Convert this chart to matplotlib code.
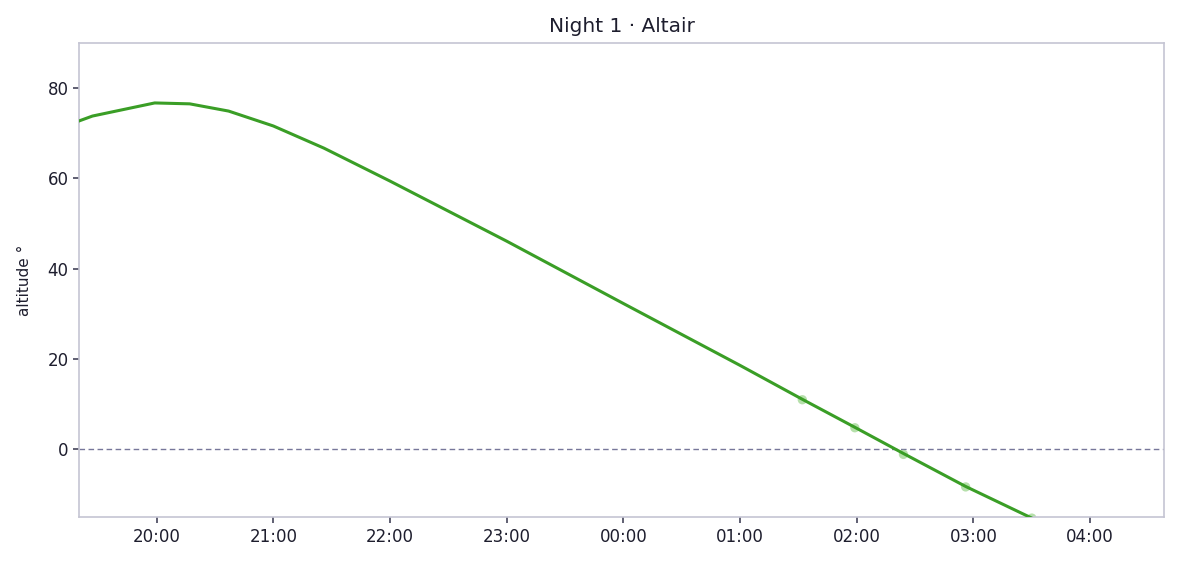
import datetime as dt
import matplotlib
matplotlib.use('Agg')
import matplotlib.pyplot as plt
import matplotlib.dates as mdates

# altitude samples for the night (hh:mm, deg)
times = ['19:20', '19:27', '19:59', '20:17', '20:37', '21:00', '21:26', '22:00',
         '23:00', '00:00', '01:00', '01:32', '01:59', '02:24', '02:56', '03:30', '03:45']
altitude = [72.7, 73.8, 76.7, 76.5, 74.9, 71.6, 66.7, 59.4,
            46.1, 32.3, 18.6, 11.1, 4.9, -0.9, -8.2, -15.2, -18.6]

# faint observation markers
obs_times = ['01:32', '01:59', '02:24', '02:56', '03:30']
obs_alt = [11.0, 4.8, -1.1, -8.3, -15.2]

xlim = ('19:20', '04:38')
ylim = (-15, 90)
title = 'Night 1 \u00b7 Altair'


def to_dt(s):
    h, m = map(int, s.split(':'))
    day = 1 if h >= 12 else 2
    return dt.datetime(2024, 1, day, h, m)


ink = '#1e1e2e'
spine = '#c5c5d3'

fig, ax = plt.subplots(figsize=(11.77, 5.64), dpi=100)
fig.subplots_adjust(left=0.067, right=0.989, top=0.924, bottom=0.083)

ax.axhline(0, color='#77779a', lw=1.0, ls=(0, (4, 2.5)), zorder=1)
ax.scatter([to_dt(t) for t in obs_times], obs_alt, s=45, color='#9ed68f',
           alpha=0.75, edgecolors='none', zorder=2)
ax.plot([to_dt(t) for t in times], altitude, color='#3a9e26', lw=2.2, zorder=3)

ax.set_xlim(to_dt(xlim[0]), to_dt(xlim[1]))
ax.set_ylim(*ylim)
ax.xaxis.set_major_locator(mdates.HourLocator())
ax.xaxis.set_major_formatter(mdates.DateFormatter('%H:%M'))
ax.set_yticks([0, 20, 40, 60, 80])

ax.set_title(title, fontsize=14.5, color=ink, pad=8)
ax.set_ylabel('altitude \u00b0', fontsize=11, color=ink, labelpad=11)
ax.tick_params(colors=ink, labelsize=12, length=4, width=1.2, color='#44445a')
for sp in ax.spines.values():
    sp.set_color(spine)
    sp.set_linewidth(1.2)

fig.savefig('out.png', dpi=100)
